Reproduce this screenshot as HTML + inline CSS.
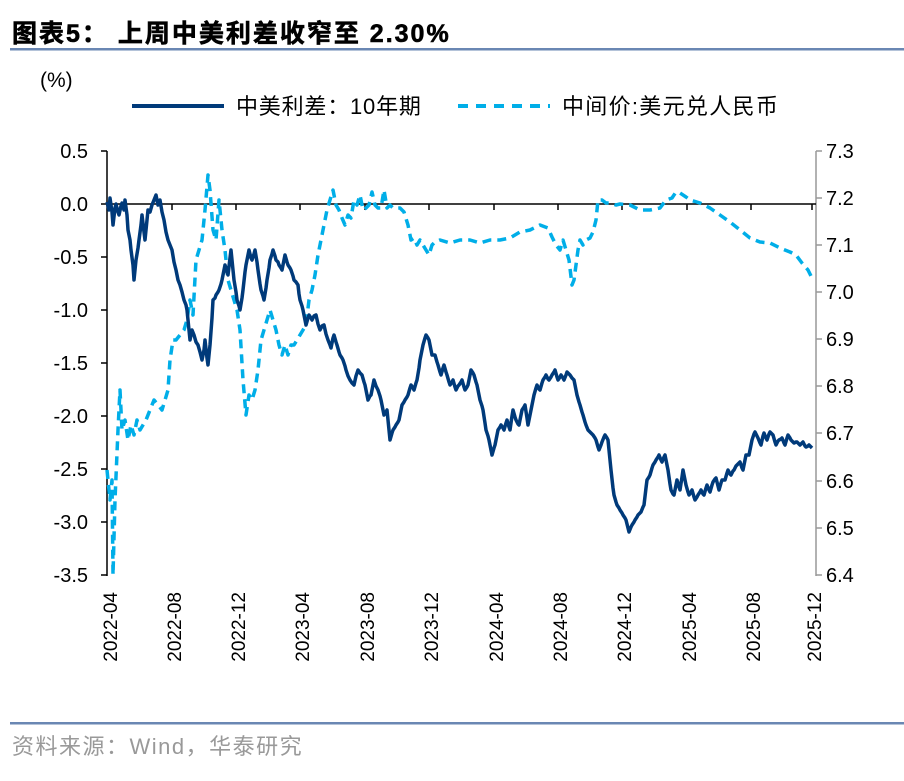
<!DOCTYPE html>
<html><head><meta charset="utf-8"><style>
html,body{margin:0;padding:0;background:#fff;}
body{width:904px;height:776px;overflow:hidden;font-family:"Liberation Sans","Noto Sans CJK SC",sans-serif;}
</style></head><body>
<svg width="904" height="776" xmlns="http://www.w3.org/2000/svg" font-family="Liberation Sans, Noto Sans CJK SC, sans-serif">
<text x="12" y="42" font-size="25" font-weight="bold" fill="#000" stroke="#000" stroke-width="0.6" letter-spacing="2">图表5：  上周中美利差收窄至 2.30%</text>
<rect x="10" y="48" width="894" height="2.5" fill="#6a87b3"/>
<rect x="10" y="722" width="894" height="2.5" fill="#6a87b3"/>
<text x="12" y="754" font-size="22" fill="#999" letter-spacing="1.5">资料来源：Wind，华泰研究</text>
<text x="40" y="87" font-size="21" fill="#000">(%)</text>
<line x1="132" y1="106" x2="224" y2="106" stroke="#003a7a" stroke-width="4"/>
<text x="236" y="114" font-size="22" fill="#000" letter-spacing="0.8">中美利差：10年期</text>
<line x1="458" y1="106" x2="550" y2="106" stroke="#00aee8" stroke-width="4" stroke-dasharray="10,8"/>
<text x="562" y="114" font-size="22" fill="#000" letter-spacing="1.3">中间价:美元兑人民币</text>
<g font-size="20" fill="#000" text-anchor="end">
<text x="88" y="158">0.5</text><text x="88" y="211">0.0</text><text x="88" y="264">-0.5</text><text x="88" y="317">-1.0</text><text x="88" y="370">-1.5</text><text x="88" y="423">-2.0</text><text x="88" y="476">-2.5</text><text x="88" y="529">-3.0</text><text x="88" y="582">-3.5</text>
</g>
<g font-size="20" fill="#000">
<text x="826" y="158">7.3</text><text x="826" y="205">7.2</text><text x="826" y="252">7.1</text><text x="826" y="299">7.0</text><text x="826" y="346">6.9</text><text x="826" y="393">6.8</text><text x="826" y="440">6.7</text><text x="826" y="488">6.6</text><text x="826" y="535">6.5</text><text x="826" y="582">6.4</text>
</g>
<line x1="107" y1="151" x2="107" y2="576" stroke="#000" stroke-width="1.5"/>
<g stroke="#000" stroke-width="1.5">
<line x1="101" y1="151" x2="107" y2="151"/><line x1="101" y1="204" x2="107" y2="204"/><line x1="101" y1="257" x2="107" y2="257"/><line x1="101" y1="310" x2="107" y2="310"/><line x1="101" y1="363" x2="107" y2="363"/><line x1="101" y1="416" x2="107" y2="416"/><line x1="101" y1="469" x2="107" y2="469"/><line x1="101" y1="522" x2="107" y2="522"/><line x1="101" y1="575" x2="107" y2="575"/>
</g>
<line x1="816" y1="151" x2="816" y2="576" stroke="#999" stroke-width="1.5"/>
<g stroke="#999" stroke-width="1.5">
<line x1="816" y1="151" x2="822" y2="151"/><line x1="816" y1="198" x2="822" y2="198"/><line x1="816" y1="245" x2="822" y2="245"/><line x1="816" y1="292" x2="822" y2="292"/><line x1="816" y1="339" x2="822" y2="339"/><line x1="816" y1="386" x2="822" y2="386"/><line x1="816" y1="433" x2="822" y2="433"/><line x1="816" y1="481" x2="822" y2="481"/><line x1="816" y1="528" x2="822" y2="528"/><line x1="816" y1="575" x2="822" y2="575"/>
</g>
<line x1="107" y1="204" x2="816" y2="204" stroke="#000" stroke-width="1.5"/>
<g stroke="#000" stroke-width="1.5">
<line x1="172" y1="204" x2="172" y2="210"/><line x1="236" y1="204" x2="236" y2="210"/><line x1="300" y1="204" x2="300" y2="210"/><line x1="365" y1="204" x2="365" y2="210"/><line x1="429" y1="204" x2="429" y2="210"/><line x1="494" y1="204" x2="494" y2="210"/><line x1="558" y1="204" x2="558" y2="210"/><line x1="622" y1="204" x2="622" y2="210"/><line x1="687" y1="204" x2="687" y2="210"/><line x1="751" y1="204" x2="751" y2="210"/><line x1="812" y1="204" x2="812" y2="210"/>
</g>
<g font-size="19" fill="#000" text-anchor="end">
<text transform="translate(117,592) rotate(-90)">2022-04</text>
<text transform="translate(181,592) rotate(-90)">2022-08</text>
<text transform="translate(245,592) rotate(-90)">2022-12</text>
<text transform="translate(309,592) rotate(-90)">2023-04</text>
<text transform="translate(374,592) rotate(-90)">2023-08</text>
<text transform="translate(438,592) rotate(-90)">2023-12</text>
<text transform="translate(503,592) rotate(-90)">2024-04</text>
<text transform="translate(567,592) rotate(-90)">2024-08</text>
<text transform="translate(631,592) rotate(-90)">2024-12</text>
<text transform="translate(696,592) rotate(-90)">2025-04</text>
<text transform="translate(760,592) rotate(-90)">2025-08</text>
<text transform="translate(821,592) rotate(-90)">2025-12</text>
</g>
<polyline fill="none" stroke="#00aee8" stroke-width="3.5" stroke-dasharray="9,6" stroke-linejoin="round" points="107,470 110,500 112,480 113,575 115,500 118,430 120,390 122,430 125,420 128,440 131,425 134,435 137,420 140,430 143,425 146,420 150,410 154,400 158,405 162,410 165,400 168,390 170,360 173,340 176,340 180,335 184,330 187,320 190,300 193,315 196,260 199,250 202,240 205,210 208,175 210,190 213,230 216,240 219,200 222,230 225,250 228,280 231,290 234,300 237,310 240,330 243,380 246,415 249,395 252,400 255,390 258,370 261,340 264,330 267,320 270,310 273,320 276,330 279,345 282,355 285,345 288,355 291,345 294,345 297,340 300,335 303,330 306,325 309,300 312,290 315,275 318,255 321,240 324,225 327,210 330,200 333,190 336,205 339,210 342,218 345,225 348,215 351,218 354,200 357,205 360,195 363,210 366,208 369,205 372,192 375,205 378,208 381,208 384,190 387,208 390,205 393,208 396,208 400,208 404,212 408,225 411,240 414,238 417,245 420,240 423,245 426,250 429,255 432,245 435,242 440,240 450,243 460,240 470,240 480,243 490,240 500,240 510,238 520,232 530,230 540,225 548,228 552,237 556,245 560,250 563,240 566,250 569,260 572,285 574,280 576,265 578,250 580,240 583,245 586,240 590,238 593,232 596,220 598,200 602,200 606,203 610,203 616,205 620,204 630,205 640,210 650,210 660,208 666,200 672,198 676,192 680,193 686,197 690,200 700,203 710,208 720,215 730,222 740,230 750,238 760,242 770,243 780,248 790,252 796,255 802,263 808,270 812,278"/>
<polyline fill="none" stroke="#003a7a" stroke-width="3.5" stroke-linejoin="round" points="107,202 109,210 110,198 112,212 113,225 115,208 116,204 118,212 119,215 121,206 122,203 124,210 125,200 127,215 128,230 130,240 131,250 133,265 134,280 135,270 136,260 138,248 139,240 141,225 142,215 144,232 145,240 147,220 148,210 150,212 152,205 154,200 156,195 158,205 160,200 162,212 164,220 166,232 168,240 170,245 172,250 174,262 176,270 178,280 180,285 182,292 184,300 186,305 187,310 189,330 190,340 192,330 194,335 196,342 198,345 200,352 202,360 204,350 205,340 207,358 208,365 209,355 210,345 212,318 213,300 215,298 216,295 218,292 219,290 221,284 222,280 224,270 225,265 227,272 228,275 230,258 231,250 233,270 234,280 236,292 237,300 239,306 240,310 242,298 243,290 245,272 246,265 248,255 249,250 251,258 252,260 254,254 255,250 257,262 258,270 260,284 261,290 263,296 264,300 266,288 267,280 269,268 270,260 272,254 273,250 275,256 276,260 278,262 279,265 281,268 282,270 284,260 285,255 287,262 288,265 290,268 291,270 293,276 294,280 296,282 298,285 299,294 300,300 302,306 303,310 305,320 306,325 308,318 309,315 311,318 312,320 314,316 316,315 318,324 320,330 322,326 324,325 326,334 328,340 330,345 331,348 333,338 334,335 336,342 337,345 339,352 340,355 342,358 343,360 345,366 346,370 348,376 350,380 352,383 354,385 356,376 358,370 360,373 362,375 364,382 365,385 367,395 368,400 370,396 371,395 373,385 374,380 376,386 378,390 380,396 381,400 383,410 384,415 386,412 387,410 389,430 390,440 392,433 393,430 395,427 396,425 398,422 399,420 401,410 402,405 404,402 405,400 407,397 408,395 410,388 411,385 413,388 414,390 416,383 417,380 419,368 420,360 422,350 423,345 425,338 426,335 428,338 429,340 431,350 432,355 434,355 435,355 437,362 438,365 440,372 441,375 443,368 444,365 446,372 447,375 449,382 450,385 452,382 453,380 455,387 456,390 458,386 459,385 461,382 462,380 464,387 465,390 467,387 468,385 470,375 471,370 473,373 474,375 476,382 477,385 479,395 480,400 482,406 483,410 485,423 486,430 488,436 489,440 491,450 492,455 494,448 495,445 497,435 498,430 500,427 501,425 503,428 504,430 506,423 507,420 509,427 510,430 512,416 513,410 515,417 516,420 518,424 519,425 521,415 522,410 524,407 525,405 527,418 528,425 530,415 531,410 533,400 534,395 536,388 537,385 539,389 540,390 542,383 543,380 545,377 546,375 548,379 549,380 551,377 552,375 554,372 555,370 557,377 558,380 560,377 561,375 563,378 564,380 566,375 567,372 569,374 570,375 572,378 574,380 576,390 577,395 579,402 580,405 582,412 583,415 585,422 586,425 588,430 590,432 592,434 593,435 595,438 596,440 598,447 599,450 601,445 602,442 604,437 605,435 607,438 608,440 610,460 611,470 613,488 614,495 616,502 617,505 619,508 620,510 622,513 623,515 625,518 626,520 628,528 629,532 631,527 632,525 634,522 635,520 637,517 638,515 640,513 641,512 643,507 644,505 646,488 647,480 649,477 650,475 652,468 653,465 655,462 656,460 658,457 659,455 661,460 662,462 664,457 665,455 667,465 668,470 670,484 671,490 673,494 674,495 676,485 677,480 679,487 680,490 682,477 683,470 685,480 686,485 688,492 689,495 691,492 692,490 694,497 695,500 697,497 698,495 700,492 701,490 703,494 704,495 706,488 707,485 709,490 710,492 712,485 713,482 715,479 716,478 718,486 719,490 721,483 722,480 724,480 725,480 727,473 728,470 730,474 731,475 733,471 734,470 736,466 737,465 739,463 740,462 742,468 743,470 745,460 746,455 748,455 749,455 751,445 752,440 754,434 755,432 757,436 758,438 760,443 761,445 763,436 764,433 766,438 767,440 769,434 770,432 772,434 773,435 775,442 776,445 778,441 779,440 781,439 782,438 784,443 785,445 787,438 788,435 790,438 791,440 793,442 794,443 796,442 797,442 799,444 800,445 802,443 803,442 805,446 806,447 808,446 809,445 811,447 812,448"/>
</svg>
</body></html>
